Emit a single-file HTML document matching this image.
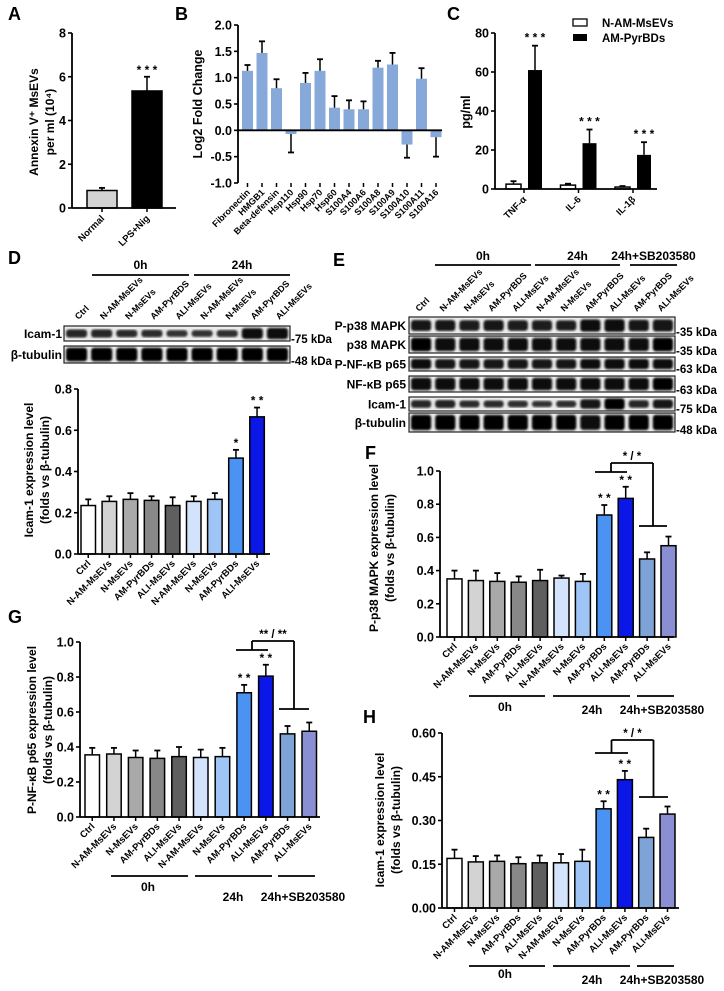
<!DOCTYPE html>
<html><head><meta charset="utf-8"><style>
body{margin:0;background:#fff}
svg{display:block;font-family:"Liberation Sans",sans-serif;font-weight:bold}
</style></head><body>
<svg id="fig" width="724" height="991" viewBox="0 0 724 991" xmlns="http://www.w3.org/2000/svg">
<defs><filter id="bl"><feGaussianBlur stdDeviation="1"/></filter></defs>
</svg>
<script>
const catsA=["Normal","LPS+Nig"];
const valsA=[0.8,5.35];
const errsA=[0.12,0.65];
const catsB=["Fibronectin","HMGB1","Beta-defensin","Hsp110","Hsp90","Hsp70","Hsp60","S100A4","S100A6","S100A8","S100A9","S100A10","S100A11","S100A16"];
const valsB=[1.13,1.47,0.8,-0.07,0.9,1.13,0.43,0.4,0.4,1.19,1.25,-0.27,0.98,-0.13];
const errsB=[0.11,0.22,0.17,0.35,0.19,0.22,0.22,0.17,0.15,0.13,0.22,0.25,0.2,0.37];
const catsC=["TNF-α","IL-6","IL-1β"];
const valsCw=[2.5,2,1];
const errsCw=[1.5,0.7,0.5];
const valsCb=[61,23.5,17.5];
const errsCb=[12.5,7,6.5];
const catsD=["Ctrl","N-AM-MsEVs","N-MsEVs","AM-PyrBDs","ALI-MsEVs","N-AM-MsEVs","N-MsEVs","AM-PyrBDs","ALI-MsEVs"];
const valsD=[0.235,0.255,0.265,0.26,0.235,0.255,0.265,0.465,0.665];
const errsD=[0.03,0.025,0.03,0.02,0.04,0.025,0.03,0.04,0.045];
const catsF=["Ctrl","N-AM-MsEVs","N-MsEVs","AM-PyrBDs","ALI-MsEVs","N-AM-MsEVs","N-MsEVs","AM-PyrBDs","ALI-MsEVs","AM-PyrBDs","ALI-MsEVs"];
const valsF=[0.35,0.34,0.335,0.33,0.34,0.355,0.335,0.735,0.835,0.47,0.55];
const errsF=[0.05,0.06,0.05,0.035,0.065,0.015,0.045,0.06,0.07,0.04,0.055];
const valsG=[0.355,0.36,0.34,0.335,0.345,0.34,0.345,0.71,0.805,0.475,0.49];
const errsG=[0.04,0.035,0.04,0.045,0.055,0.045,0.05,0.045,0.065,0.045,0.05];
const valsH=[0.17,0.158,0.16,0.152,0.155,0.155,0.16,0.34,0.44,0.242,0.322];
const errsH=[0.03,0.02,0.02,0.022,0.025,0.03,0.04,0.026,0.03,0.03,0.026];
const ticksA=[0,2,4,6,8];
const ticksB=[-1,-0.5,0,0.5,1,1.5,2];
const ticksC=[0,20,40,60,80];
const ticksD=[0,0.2,0.4,0.6,0.8];
const ticksF=[0,0.2,0.4,0.6,0.8,1.0];
const ticksH=[0,0.15,0.3,0.45,0.6];
const starsD=["","","","","","","","*","**"];
const starsF=["","","","","","","","**","**","",""];

const NS="http://www.w3.org/2000/svg";
const svg=document.getElementById('fig');
function mk(tag,at,parent,txt){const e=document.createElementNS(NS,tag);for(const k in at)e.setAttribute(k,at[k]);if(txt!==undefined)e.textContent=txt;(parent||svg).appendChild(e);return e;}
function grp(name){const g=mk('g',{});


return g;}
function line(g,x1,y1,x2,y2,w){return mk('line',{x1,y1,x2,y2,stroke:'#000','stroke-width':w||1.5},g);}
function text(g,x,y,s,size,anchor,rot){const a={x,y,'font-size':size,'text-anchor':anchor||'middle'};if(rot!==undefined)a.transform=`rotate(${rot} ${x} ${y})`;return mk('text',a,g,s);}
const colors=["#ffffff","#d3d3d3","#a9a9a9","#888888","#5f5f5f","#d2e3fb","#9fc5f6","#4b93f2","#0a17e6","#7ea3d6","#8a8ed2"];

function chart(o){
  const g=grp(o.name);
  const y=v=>o.yBot-(v-o.vmin)/(o.vmax-o.vmin)*(o.yBot-o.yTop);
  const base=y(Math.max(0,o.vmin));
  const ax=line(g,o.x0,o.yTop,o.x0,y(o.vmin),1.8);
  
  o.ticks.forEach(t=>{line(g,o.x0-4,y(t),o.x0,y(t),1.6);
    const tl=text(g,o.x0-6,y(t)+4.5,o.fmt(t),o.tsize||12.5,'end');
    });
  o.vals.forEach((v,i)=>{
    const xl=o.xStart+i*o.pitch, xc=xl+o.bw/2;
    const top=y(v), e=o.errs[i];
    const r=mk('rect',{x:xl,y:Math.min(top,base),width:o.bw,height:Math.max(0.5,Math.abs(base-top)),fill:o.fill?o.fill(i):colors[i],stroke:o.noStroke?'none':'#000','stroke-width':1.5},g);
    
    
    const ey=v>=0?y(v+e):y(v-e);
    line(g,xc,top,xc,ey,1.5);line(g,xc-3,ey,xc+3,ey,1.8);
    if(o.stars&&o.stars[i]){const st=text(g,xc,y(v+e)-3,o.stars[i].split('').join(' '),o.ssize||12,'middle');}
    if(o.cats&&!o.noCat){line(g,xc,y(o.vmin),xc,y(o.vmin)+4,1.5);
      const cl=text(g,xc+3,y(o.vmin)+10,o.cats[i],o.csize||9.5,'end',-45);}
  });
  const xa=line(g,o.x0,base,o.xEnd,base,1.8);
  return {g,y};
}
function ytitle(g,x,y,lines,size){lines.forEach((s,i)=>{const t=text(g,x+i*(size+4),y,s,size,'middle',-90);});}
function panel(s,x,y){const t=text(svg,x,y,s,18,'start');}

panel('A',8,20);panel('B',175,20);panel('C',447,20);panel('D',8,264);panel('E',333,266);panel('F',365,459);panel('G',8,623);panel('H',363,723);
let A=chart({name:'chart-a',x0:72,yTop:33,yBot:208,vmin:0,vmax:8,ticks:ticksA,fmt:t=>t,vals:valsA,errs:errsA,fill:i=>i?'#000':'#d3d3d3',xStart:87,pitch:45,bw:30,xEnd:176,cats:catsA,noCat:true,stars:["","***"]});
catsA.forEach((c,i)=>{const xc=102+i*45;line(A.g,xc,208,xc,212);text(A.g,xc+3,219,c,9.5,'end',-45);});
ytitle(A.g,38,122,["Annexin V⁺ MsEVs","per ml (10⁴)"],12);
let B=chart({name:'chart-b',x0:238,yTop:25,yBot:183,vmin:-1,vmax:2,ticks:ticksB,fmt:t=>t.toFixed(1),vals:valsB,errs:errsB,fill:()=>'#87a9d9',noStroke:true,xStart:242,pitch:14.5,bw:11,xEnd:442,cats:catsB,noCat:true});
catsB.forEach((c,i)=>{const xc=247.5+i*14.5;line(B.g,xc,183,xc,187);const t=text(B.g,xc+3,193,c,9,'end',-45);});
ytitle(B.g,202,104,["Log2 Fold Change"],12.5);
let C=chart({name:'chart-c',x0:495,yTop:33,yBot:189,vmin:0,vmax:80,ticks:ticksC,fmt:t=>t,vals:valsCw,errs:errsCw,fill:()=>'#fff',xStart:506,pitch:54.5,bw:15,xEnd:657});
valsCb.forEach((v,i)=>{const xl=528+i*54.5,top=C.y(v),e=errsCb[i];const r=mk('rect',{x:xl,y:top,width:14,height:189-top,fill:'#000'},C.g);


line(C.g,xl+7,top,xl+7,C.y(v+e),1.5);line(C.g,xl+4,C.y(v+e),xl+10,C.y(v+e),1.8);text(C.g,xl+7,C.y(v+e)-4,'* * *',12,'middle');
const xc=524+i*54.5;line(C.g,xc,189,xc,193);const t=text(C.g,xc+3,200,catsC[i],9.5,'end',-45);});
ytitle(C.g,470,112,["pg/ml"],12.5);
{const lg=grp('legend');mk('rect',{x:573,y:19,width:14,height:7,fill:'#fff',stroke:'#000','stroke-width':1.3},lg);text(lg,602,27,'N-AM-MsEVs',11.5,'start');mk('rect',{x:573,y:34,width:14,height:7,fill:'#000'},lg);text(lg,602,42,'AM-PyrBDs',11.5,'start');}

function blot(name,x0,x1,y0,y1,n,int,label,kda,lx){
  const g=grp(name);
  mk('rect',{x:x0,y:y0,width:x1-x0,height:y1-y0,fill:'#ececec',stroke:'#222','stroke-width':1.2},g);
  const lw=(x1-x0)/n;
  for(let i=0;i<n;i++){const h=(y1-y0)*(0.3+0.5*int[i]);const c=Math.round(70-65*int[i]);mk('rect',{x:x0+i*lw+2,y:(y0+y1)/2-h/2,width:lw-4,height:h,rx:3,fill:`rgb(${c},${c},${c})`,filter:'url(#bl)'},g);}
  const t=text(g,lx,(y0+y1)/2+4.5,label,12,'end');
  text(g,x1+1,y1+2,'-'+kda,11.5,'start');
}
const dIcam=[0.5,0.5,0.4,0.4,0.3,0.3,0.35,0.85,0.9];
blot('blot-d-icam1',64,290,326,341,9,dIcam,'Icam-1','75 kDa',62);
blot('blot-d-tubulin',64,290,346,363,9,[1,1,1,1,1,1,1,1,1],'β-tubulin','48 kDa',62);
const eRows=[['P-p38 MAPK',317,334,[0.7,0.7,0.65,0.7,0.65,0.65,0.6,0.85,0.9,0.75,0.8],'35 kDa'],['p38 MAPK',336,353,[1,0.95,0.95,0.95,0.95,0.95,0.95,0.95,0.95,0.95,1],'35 kDa'],['P-NF-κB p65',357,371,[0.85,0.8,0.8,0.8,0.8,0.8,0.8,0.85,0.9,0.85,0.85],'63 kDa'],['NF-κB p65',376,392,[0.95,0.95,0.95,0.95,0.95,0.95,0.95,0.95,0.95,0.95,1],'63 kDa'],['Icam-1',397,411,[0.5,0.55,0.4,0.4,0.35,0.3,0.35,0.75,1,0.5,0.7],'75 kDa'],['β-tubulin',413,432,[1,1,1,1,1,1,1,0.95,1,1,1],'48 kDa']];
eRows.forEach(r=>blot('blot-e-'+r[0].toLowerCase().replace(/[^a-z0-9]+/g,'-'),409,675,r[1],r[2],11,r[3],r[0],r[4],406));
function hdr(g,x1,x2,y,s,ty){line(g,x1,y,x2,y,1.8);text(g,(x1+x2)/2,ty,s,12,'middle');}
{const g=grp('blot-d-header');hdr(g,92,189,275,'0h',269);hdr(g,194,290,275,'24h',269);
const dl=["Ctrl","N-AM-MsEVs","N-MsEVs","AM-PyrBDS","ALI-MsEVs","N-AM-MsEVs","N-MsEVs","AM-PyrBDS","ALI-MsEVs"];
dl.forEach((s,i)=>{const xc=64+(i+0.5)*25.1;const t=text(g,xc+2,320,s,9,'start',-45);});}
{const g=grp('blot-e-header');hdr(g,435,531,265,'0h',260);hdr(g,535,620,265,'24h',260);hdr(g,630,677,265,'24h+SB203580',260);
const el=["Ctrl","N-AM-MsEVs","N-MsEVs","AM-PyrBDS","ALI-MsEVs","N-AM-MsEVs","N-MsEVs","AM-PyrBDS","ALI-MsEVs","AM-PyrBDS","ALI-MsEVs"];
el.forEach((s,i)=>{const xc=409+(i+0.5)*24.2;const t=text(g,xc-2,312,s,9,'start',-45);});}

let D=chart({name:'chart-d',x0:78,yTop:389,yBot:554,vmin:0,vmax:0.8,ticks:ticksD,fmt:t=>t.toFixed(1),vals:valsD,errs:errsD,xStart:81,pitch:21.1,bw:14.5,xEnd:270,cats:catsD,stars:starsD});
ytitle(D.g,33,470,["Icam-1 expression level","(folds vs β-tubulin)"],12);
function grpLines(name,lines){const g=grp(name);lines.forEach(l=>{line(g,l[0],l[2],l[1],l[2],1.8);text(g,l[3],l[4],l[5],12,'middle');});}
function bracket(g,L,R,texts){
  const [lx1,lx2,ly]=L,[rx1,rx2,ry]=R,lm=(lx1+lx2)/2,rm=(rx1+rx2)/2;
  line(g,lx1,ly,lx2,ly,1.8);line(g,rx1,ry,rx2,ry,1.8);
  line(g,lm,ly,lm,texts[1],1.8);line(g,rm,ry,rm,texts[1],1.8);line(g,lm,texts[1],rm,texts[1],1.8);
  const t=text(g,(lm+rm)/2,texts[1]-3,texts[0],11.5,'middle');}
let F=chart({name:'chart-f',x0:440,yTop:471,yBot:637,vmin:0,vmax:1,ticks:ticksF,fmt:t=>t.toFixed(1),vals:valsF,errs:errsF,xStart:447,pitch:21.4,bw:15,xEnd:674,cats:catsF,stars:starsF});
ytitle(F.g,378,548,["P-p38 MAPK expression level","(folds vs β-tubulin)"],12);
bracket(F.g,[595,627,472],[639,667,526],['* / *',463]);
grpLines('group-labels-f',[[469,545,696,505,711,'0h'],[553,630,696,592,714,'24h'],[637,674,696,662,714,'24h+SB203580']]);
let G=chart({name:'chart-g',x0:80,yTop:642,yBot:817,vmin:0,vmax:1,ticks:ticksF,fmt:t=>t.toFixed(1),vals:valsG,errs:errsG,xStart:85,pitch:21.7,bw:14.5,xEnd:320,cats:catsF,stars:starsF});
ytitle(G.g,36,730,["P-NF-κB p65 expression level","(folds vs β-tubulin)"],12);
bracket(G.g,[236,268,650],[279,309,709],['** / **',641]);
grpLines('group-labels-g',[[111,188,876,148,891,'0h'],[195,272,876,233,901,'24h'],[278,315,876,303,901,'24h+SB203580']]);
let H=chart({name:'chart-h',x0:442,yTop:733,yBot:908,vmin:0,vmax:0.6,ticks:ticksH,fmt:t=>t.toFixed(2),vals:valsH,errs:errsH,xStart:447,pitch:21.3,bw:15,xEnd:679,cats:catsF,stars:starsF});
ytitle(H.g,384,820,["Icam-1 expression level","(folds vs β-tubulin)"],12);
bracket(H.g,[595,628,753],[639,668,797],['* / *',740]);
grpLines('group-labels-h',[[469,545,966,505,978,'0h'],[553,630,966,592,984,'24h'],[637,674,966,662,984,'24h+SB203580']]);
</script>
</body></html>
